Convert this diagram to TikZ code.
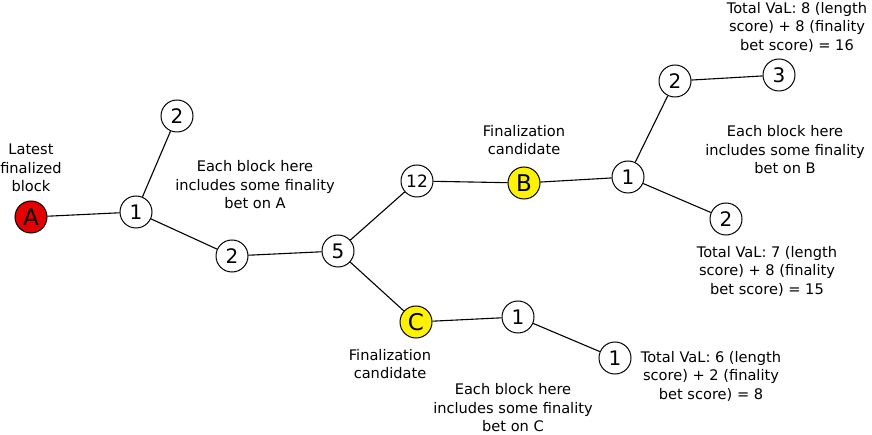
\documentclass[tikz,border=0pt]{standalone}
\usepackage{fontspec}
\setmainfont{DejaVu Sans}
\begin{document}
\begin{tikzpicture}[x=1pt,y=-1pt,
  blk/.style={circle,draw,line width=1pt,minimum size=32pt,inner sep=0pt,fill=white,font=\fontsize{20}{20}\selectfont},
  lbl/.style={align=center,font=\fontsize{14.6}{18.5}\selectfont,inner sep=0pt},
  edge/.style={line width=1.1pt}]
\useasboundingbox (0,0) rectangle (872,435);
\node[blk,fill=red!90!black,font=\fontsize{23}{23}\selectfont] (A) at (31,217) {A};
\node[blk] (n1) at (136,212) {1};
\node[blk] (n2t) at (177,116) {2};
\node[blk] (n2) at (232,256) {2};
\node[blk] (n5) at (338,251) {5};
\node[blk,font=\fontsize{17}{17}\selectfont] (n12) at (417,181) {12};
\node[blk,fill=yellow,font=\fontsize{23}{23}\selectfont] (B) at (524,183) {B};
\node[blk] (b1) at (628,177) {1};
\node[blk] (b2t) at (675,81) {2};
\node[blk] (b3) at (779,75) {3};
\node[blk] (b2) at (726,219) {2};
\node[blk,fill=yellow,font=\fontsize{23}{23}\selectfont] (C) at (416,322) {C};
\node[blk] (c1) at (518,317) {1};
\node[blk] (c1b) at (615,358) {1};
\draw[edge] (A) -- (n1);
\draw[edge] (n1) -- (n2t);
\draw[edge] (n1) -- (n2);
\draw[edge] (n2) -- (n5);
\draw[edge] (n5) -- (n12);
\draw[edge] (n5) -- (C);
\draw[edge] (n12) -- (B);
\draw[edge] (B) -- (b1);
\draw[edge] (b1) -- (b2t);
\draw[edge] (b2t) -- (b3);
\draw[edge] (b1) -- (b2);
\draw[edge] (C) -- (c1);
\draw[edge] (c1) -- (c1b);
\node[lbl] (tA) at (31,168) {Latest\\finalized\\block};
\node[lbl] (tAe) at (255,185) {Each block here\\includes some finality\\bet on A};
\node[lbl] (tB) at (524,140) {Finalization\\candidate};
\node[lbl] (tB3) at (797,27) {Total VaL: 8 (length\\score) + 8 (finality\\bet score) = 16};
\node[lbl] (tBe) at (785,150) {Each block here\\includes some finality\\bet on B};
\node[lbl] (tB2) at (767,271) {Total VaL: 7 (length\\score) + 8 (finality\\bet score) = 15};
\node[lbl] (tC) at (390,364) {Finalization\\candidate};
\node[lbl] (tC1) at (711,376) {Total VaL: 6 (length\\score) + 2 (finality\\bet score) = 8};
\node[lbl] (tCe) at (513,408) {Each block here\\includes some finality\\bet on C};
\end{tikzpicture}
\end{document}
